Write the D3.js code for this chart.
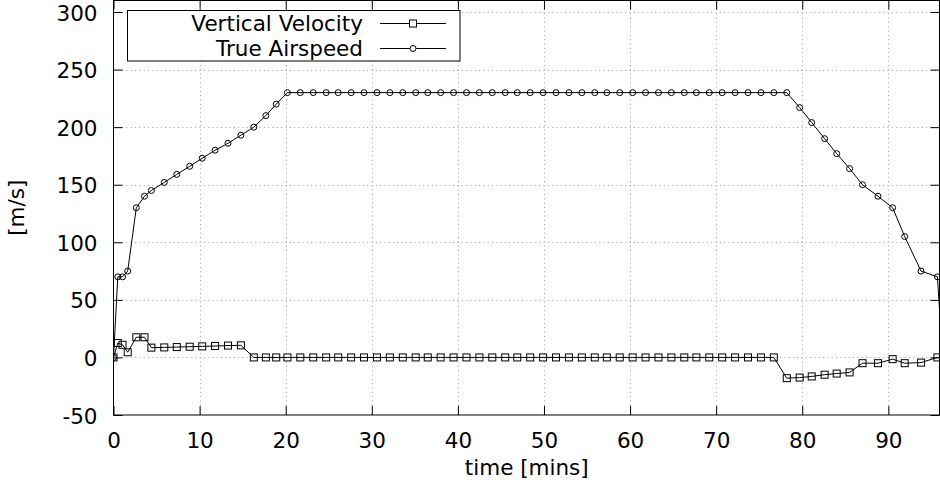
<!DOCTYPE html>
<html>
<head>
<meta charset="utf-8">
<script src="https://cdn.jsdelivr.net/npm/d3@7"></script>
<style>
  body { margin: 0; background: #fff; }
  svg text { font-family: "DejaVu Sans", sans-serif; font-size: 21.5px; fill: #000; }
</style>
</head>
<body>
<div id="chart"></div>
<script>
// time of each sample, in minutes
const times = [0, 0.5, 1.05, 1.65, 2.65, 3.6, 4.4, 5.9, 7.35, 8.85, 10.3, 11.8, 13.3, 14.8, 16.3, 17.7, 18.9,
  20.2, 21.7, 23.2, 24.7, 26.1, 27.6, 29.1, 30.6, 32.1, 33.6, 35.1, 36.5, 38.0, 39.5, 41.0, 42.5, 44.0, 45.5, 46.9, 48.4,
  49.9, 51.4, 52.9, 54.4, 55.9, 57.3, 58.8, 60.3, 61.8, 63.3, 64.8, 66.3, 67.7, 69.2, 70.7, 72.2, 73.7, 75.2, 76.7, 78.2,
  79.7, 81.1, 82.6, 84.0, 85.5, 87.0, 88.8, 90.5, 91.9, 93.8, 95.7, 96.3];

const verticalVelocity = [0, 12.5, 11, 4.5, 17.5, 17.5, 8.5, 8.7, 9.0, 9.3, 9.6, 9.9, 10.3, 10.5, 0, 0, 0,
  0, 0, 0, 0, 0, 0, 0, 0, 0, 0, 0, 0, 0, 0, 0, 0, 0, 0, 0, 0,
  0, 0, 0, 0, 0, 0, 0, 0, 0, 0, 0, 0, 0, 0, 0, 0, 0, 0, 0, -18,
  -17.5, -16.5, -15, -14, -13, -5, -5, -1.5, -5, -4.5, 0, 0];

const trueAirspeed = [0, 70, 70, 75, 130, 140, 145, 152, 159, 166, 173, 180, 186, 193, 200, 210, 220,
  230, 230, 230, 230, 230, 230, 230, 230, 230, 230, 230, 230, 230, 230, 230, 230, 230, 230, 230, 230,
  230, 230, 230, 230, 230, 230, 230, 230, 230, 230, 230, 230, 230, 230, 230, 230, 230, 230, 230, 230,
  217, 204, 190, 177, 164, 150, 140, 130, 105, 75, 70, 0];

const xTicks = [0, 10, 20, 30, 40, 50, 60, 70, 80, 90];
const yTicks = [-50, 0, 50, 100, 150, 200, 250, 300];

const seriesNames = ['Vertical Velocity', 'True Airspeed'];

const W = 940, H = 497;
const mLeft = 113.5, mRight = 940, mTop = 0.5, mBottom = 415;

const svg = d3.select('#chart').append('svg')
  .attr('width', W).attr('height', H);

const x = d3.scaleLinear().domain([0, 96]).range([mLeft, mRight]);
const y = d3.scaleLinear().domain([-50, 310]).range([mBottom, mTop]);

// gnuplot prints a plain hyphen for negatives
const fmt = d => String(d);

svg.append('defs').append('clipPath').attr('id', 'plot')
  .append('rect').attr('x', mLeft).attr('y', mTop)
  .attr('width', mRight - mLeft).attr('height', mBottom - mTop);

// grid
const grid = svg.append('g').attr('stroke', '#a0a0a0').attr('stroke-width', 1)
  .attr('stroke-dasharray', '1,3.3');
grid.selectAll('.gx').data(xTicks.filter(d => d > 0)).enter().append('line')
  .attr('x1', d => Math.round(x(d)) + 0.5).attr('x2', d => Math.round(x(d)) + 0.5)
  .attr('y1', mTop).attr('y2', mBottom);
grid.selectAll('.gy').data(yTicks.filter(d => d > -50)).enter().append('line')
  .attr('y1', d => Math.round(y(d)) + 0.5).attr('y2', d => Math.round(y(d)) + 0.5)
  .attr('x1', mLeft).attr('x2', mRight);

// axes with mirrored inner ticks
const tickLen = 9;
const axB = svg.append('g').attr('transform', `translate(0,${mBottom})`)
  .call(d3.axisBottom(x).tickValues(xTicks).tickSize(-tickLen).tickFormat(fmt));
const axT = svg.append('g').attr('transform', `translate(0,${mTop})`)
  .call(d3.axisTop(x).tickValues(xTicks).tickSize(-tickLen).tickFormat(''));
const axL = svg.append('g').attr('transform', `translate(${mLeft},0)`)
  .call(d3.axisLeft(y).tickValues(yTicks).tickSize(-tickLen).tickPadding(16).tickFormat(fmt));
const axR = svg.append('g').attr('transform', `translate(${mRight - 0.5},0)`)
  .call(d3.axisRight(y).tickValues(yTicks).tickSize(-tickLen).tickFormat(''));
[axB, axT, axL, axR].forEach(a => {
  a.select('.domain').remove();
  a.selectAll('line').attr('stroke', '#000');
  a.selectAll('text').attr('font-size', null).attr('font-family', null).attr('fill', '#000');
});
axB.selectAll('text').attr('dy', null).attr('y', 33);
axL.selectAll('text').attr('dy', null).attr('y', 8);

// border
svg.append('rect').attr('x', mLeft).attr('y', mTop)
  .attr('width', mRight - mLeft - 0.5).attr('height', mBottom - mTop)
  .attr('fill', 'none').attr('stroke', '#000');

// data
const vv = times.map((t, i) => ({ t, v: verticalVelocity[i] }));
const tas = times.map((t, i) => ({ t, v: trueAirspeed[i] }));
const line = d3.line().x(d => x(d.t)).y(d => y(d.v));
const plot = svg.append('g').attr('clip-path', 'url(#plot)');

plot.append('path').datum(vv).attr('d', line)
  .attr('fill', 'none').attr('stroke', '#000').attr('stroke-width', 1);
plot.append('path').datum(tas).attr('d', line)
  .attr('fill', 'none').attr('stroke', '#000').attr('stroke-width', 1);

const inRange = d => d.t <= x.domain()[1];
plot.selectAll('.sq').data(vv.filter(inRange)).enter().append('rect')
  .attr('x', d => x(d.t) - 3.5).attr('y', d => y(d.v) - 3.5)
  .attr('width', 7).attr('height', 7)
  .attr('fill', 'none').attr('stroke', '#000');
plot.selectAll('.ci').data(tas.filter(inRange)).enter().append('circle')
  .attr('cx', d => x(d.t)).attr('cy', d => y(d.v)).attr('r', 3)
  .attr('fill', 'none').attr('stroke', '#000');

// legend
const key = svg.append('g');
key.append('rect').attr('x', 127.5).attr('y', 10.5).attr('width', 332.5).attr('height', 50.5)
  .attr('fill', '#fff').attr('stroke', '#000');
const rows = key.selectAll('.row').data(seriesNames).enter().append('g')
  .attr('transform', (d, i) => `translate(0,${i === 0 ? 23.5 : 48.5})`);
rows.append('text').attr('x', 363).attr('y', 7.5).attr('text-anchor', 'end').text(d => d);
rows.append('line').attr('x1', 380).attr('x2', 446).attr('stroke', '#000');
rows.filter((d, i) => i === 0).append('rect').attr('x', 409.5).attr('y', -3.5)
  .attr('width', 7).attr('height', 7).attr('fill', '#fff').attr('stroke', '#000');
rows.filter((d, i) => i === 1).append('circle').attr('cx', 413).attr('cy', 0).attr('r', 3)
  .attr('fill', '#fff').attr('stroke', '#000');

// axis titles
svg.append('text').attr('x', (mLeft + mRight) / 2).attr('y', 475)
  .attr('text-anchor', 'middle').text('time [mins]');
svg.append('text').attr('transform', `translate(24,${(mTop + mBottom) / 2}) rotate(-90)`)
  .attr('text-anchor', 'middle').text('[m/s]');
</script>
</body>
</html>
